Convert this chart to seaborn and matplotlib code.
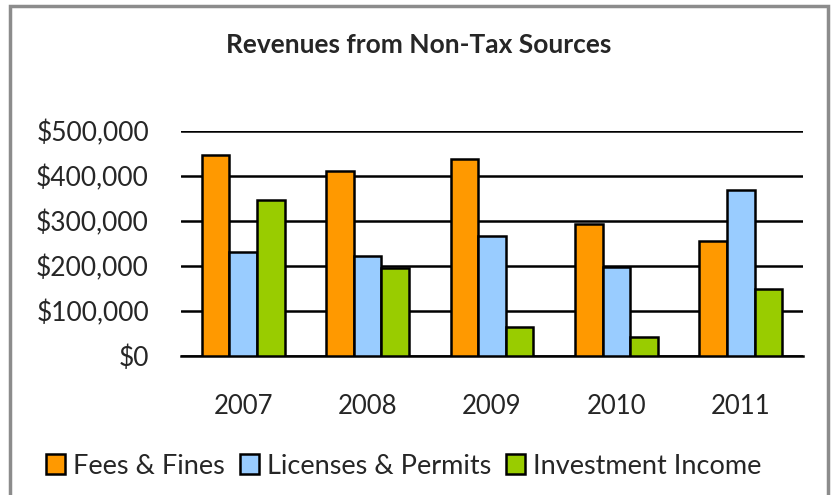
import pandas as pd
import numpy as np
import matplotlib
matplotlib.use("Agg")
import matplotlib.pyplot as plt
import seaborn as sns
from matplotlib.patches import Rectangle
from matplotlib.ticker import FuncFormatter, FixedLocator

# ------------------------------------------
# Data
# ------------------------------------------
years = ["2007", "2008", "2009", "2010", "2011"]
fees_fines = [447000, 411000, 438000, 293000, 256000]
licenses_permits = [232000, 223000, 267000, 198000, 368000]
investment_income = [347000, 196000, 64000, 43000, 148000]

series_names = ["Fees & Fines", "Licenses & Permits", "Investment Income"]
colors = ["#FF9900", "#99CCFF", "#99CC00"]

df = pd.DataFrame({
    "Year": years * 3,
    "Source": [series_names[0]] * 5 + [series_names[1]] * 5 + [series_names[2]] * 5,
    "Revenue": fees_fines + licenses_permits + investment_income,
})

# ------------------------------------------
# Plot
# ------------------------------------------
sns.set_style("white")
plt.rcParams["font.family"] = ["Lato", "DejaVu Sans"]

fig = plt.figure(figsize=(8.33, 4.95), dpi=100)
ax = fig.add_axes([181 / 833, 1 - 356 / 495, 622 / 833, 225 / 495])

ax.yaxis.grid(True, color="black", linewidth=1.8, zorder=0)
ax.set_axisbelow(True)

sns.barplot(
    data=df, x="Year", y="Revenue", hue="Source",
    palette=colors, saturation=1, width=0.667, edgecolor="black", linewidth=1.8,
    ax=ax, legend=True, zorder=3,
)

ax.set_ylim(0, 500000)
ax.set_xlim(-0.5, 4.5)
ax.set_yticks(np.arange(0, 500001, 100000))
ax.yaxis.set_major_formatter(FuncFormatter(lambda v, p: f"${v:,.0f}"))
ax.tick_params(axis="y", length=0, pad=23, labelsize=19)
ax.tick_params(axis="x", which="major", length=0, pad=27, labelsize=18.5)
ax.xaxis.set_minor_locator(FixedLocator(np.arange(-0.5, 5, 1)))
ax.tick_params(axis="x", which="minor", length=7, width=1.8, color="black", direction="out")
ax.set_xlabel("")
ax.set_ylabel("")

for side in ["top", "right", "left"]:
    ax.spines[side].set_visible(False)
ax.spines["bottom"].set_color("black")
ax.spines["bottom"].set_linewidth(1.8)

ax.set_title("Revenues from Non-Tax Sources", fontsize=19, fontweight="bold", pad=0,
             x=(419 - 181) / 622, y=1 + (131 - 45) / 225, va="center")

handles, labels = ax.get_legend_handles_labels()
ax.legend(handles, labels, loc="center", bbox_to_anchor=(404 / 833, 1 - 466 / 495),
          bbox_transform=fig.transFigure, ncol=3, frameon=False, fontsize=19.5,
          handlelength=0.7, handleheight=0.75, handletextpad=0.3, columnspacing=0.55)

# outer chart border
fig.patches.append(Rectangle((10 / 833, -0.05), 818 / 833, 1.05 - 6 / 495,
                             transform=fig.transFigure, fill=False,
                             edgecolor="#8C8C8C", linewidth=2.5))

fig.savefig("out.png", dpi=100)
